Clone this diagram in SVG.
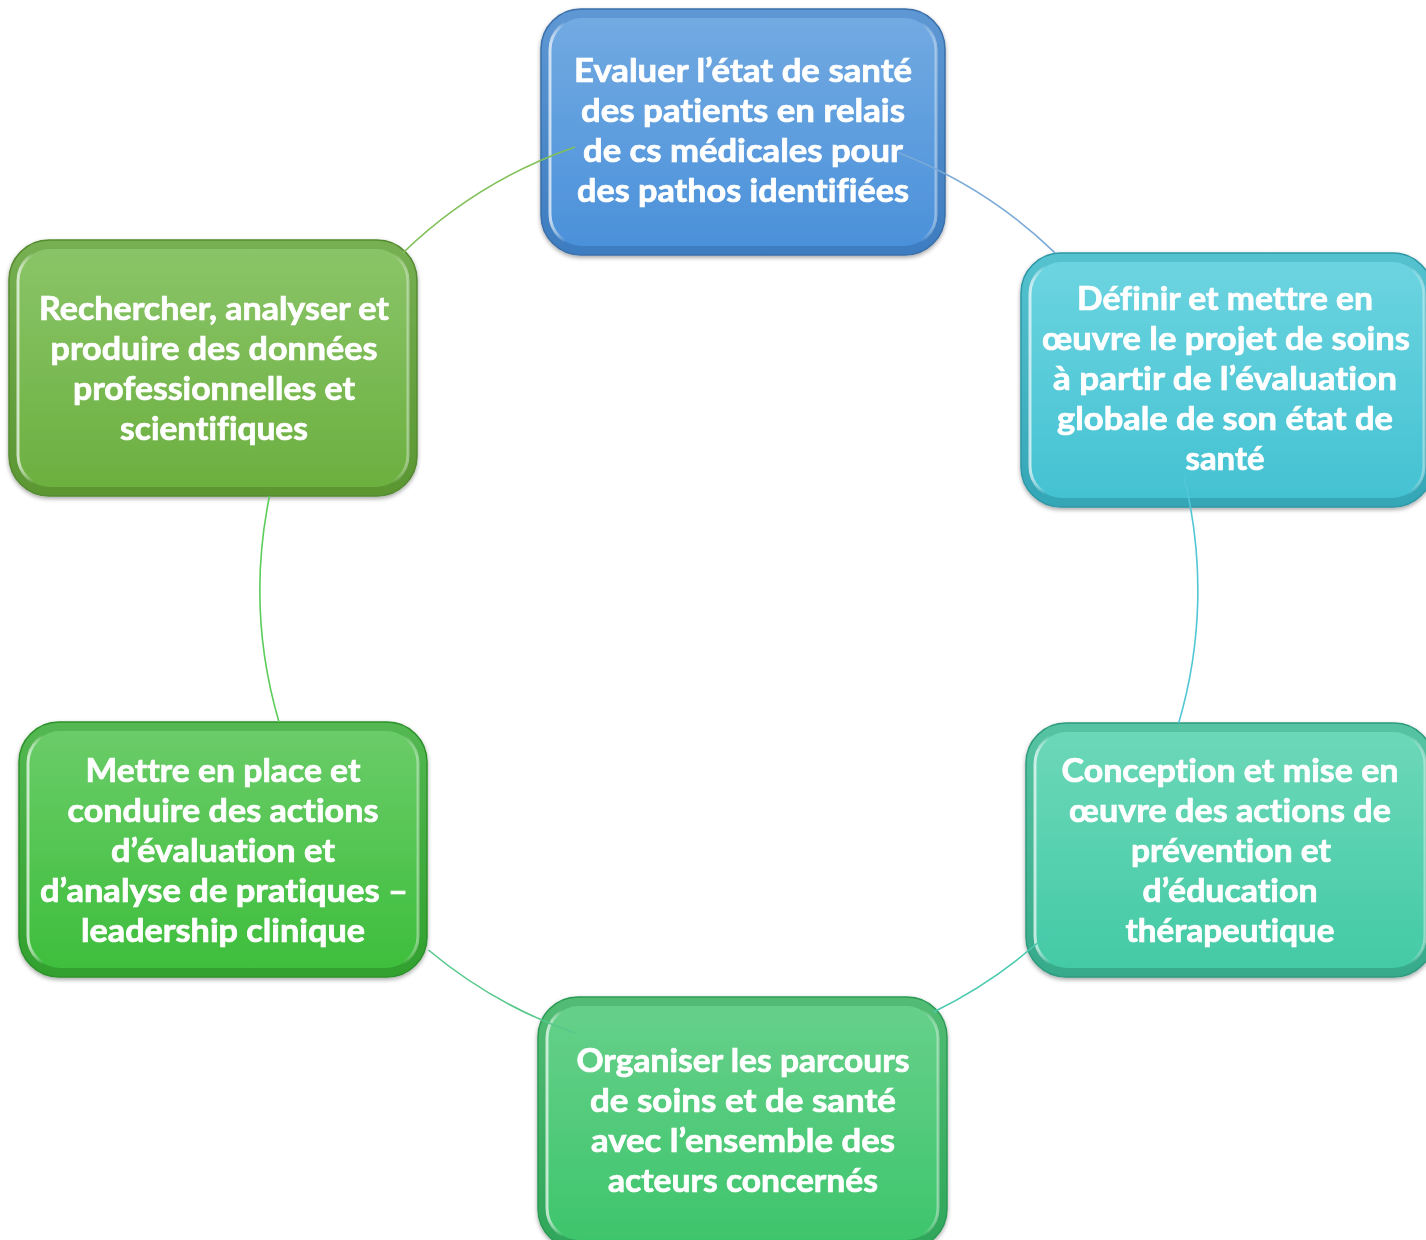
<svg xmlns="http://www.w3.org/2000/svg" width="1426" height="1240" viewBox="0 0 1426 1240">
<style>
.rim{stroke-width:1.5}
.hl{fill:none;stroke:url(#hlH);stroke-width:3}
.t{font-family:Lato,"Open Sans","Liberation Sans",sans-serif;font-weight:700;font-size:32px;fill:#ffffff;stroke:#ffffff;stroke-width:0.7px;text-anchor:middle;font-variant-ligatures:none}
.arc{fill:none;stroke-width:1.6}
</style>
<defs>
<filter id="sh" x="-10%" y="-10%" width="120%" height="125%"><feDropShadow dx="0" dy="2" stdDeviation="2" flood-color="#000" flood-opacity="0.35"/></filter>
<linearGradient id="hlH" x1="0" y1="0" x2="1" y2="0">
<stop offset="0" stop-color="#fff" stop-opacity="0.7"/><stop offset="0.04" stop-color="#fff" stop-opacity="0"/><stop offset="0.96" stop-color="#fff" stop-opacity="0"/><stop offset="1" stop-color="#fff" stop-opacity="0.4"/>
</linearGradient>
<linearGradient id="gB" x1="0" y1="0" x2="0" y2="1"><stop offset="0" stop-color="#72aae2"/><stop offset="1" stop-color="#4b91da"/></linearGradient>
<linearGradient id="rB" x1="0" y1="0" x2="0" y2="1"><stop offset="0" stop-color="#5e98d4"/><stop offset="1" stop-color="#3d7cc0"/></linearGradient>
<linearGradient id="gC" x1="0" y1="0" x2="0" y2="1"><stop offset="0" stop-color="#6cd4e0"/><stop offset="1" stop-color="#44c2d2"/></linearGradient>
<linearGradient id="rC" x1="0" y1="0" x2="0" y2="1"><stop offset="0" stop-color="#55c2cf"/><stop offset="1" stop-color="#34a6b6"/></linearGradient>
<linearGradient id="gT" x1="0" y1="0" x2="0" y2="1"><stop offset="0" stop-color="#6cd8b8"/><stop offset="1" stop-color="#44caa6"/></linearGradient>
<linearGradient id="rT" x1="0" y1="0" x2="0" y2="1"><stop offset="0" stop-color="#56c4a2"/><stop offset="1" stop-color="#36aa8a"/></linearGradient>
<linearGradient id="gG" x1="0" y1="0" x2="0" y2="1"><stop offset="0" stop-color="#66d08a"/><stop offset="1" stop-color="#3ec56c"/></linearGradient>
<linearGradient id="rG" x1="0" y1="0" x2="0" y2="1"><stop offset="0" stop-color="#52bc74"/><stop offset="1" stop-color="#2ea65a"/></linearGradient>
<linearGradient id="gL" x1="0" y1="0" x2="0" y2="1"><stop offset="0" stop-color="#6acc68"/><stop offset="1" stop-color="#3ebe3c"/></linearGradient>
<linearGradient id="rL" x1="0" y1="0" x2="0" y2="1"><stop offset="0" stop-color="#54b852"/><stop offset="1" stop-color="#31a02e"/></linearGradient>
<linearGradient id="gV" x1="0" y1="0" x2="0" y2="1"><stop offset="0" stop-color="#8ac468"/><stop offset="1" stop-color="#6cb040"/></linearGradient>
<linearGradient id="rV" x1="0" y1="0" x2="0" y2="1"><stop offset="0" stop-color="#76b052"/><stop offset="1" stop-color="#5a9632"/></linearGradient>
</defs>
<rect width="1426" height="1240" fill="#ffffff"/>

<g id="n1" filter="url(#sh)">
<rect class="rim" x="541" y="9" width="404" height="246" rx="40" fill="url(#rB)" stroke="#3a6fa8"/>
<rect x="550" y="18" width="386" height="228" rx="32" fill="url(#gB)"/>
<rect class="hl" x="550" y="18" width="386" height="228" rx="32"/>
<text class="t" x="743" y="82" textLength="338" lengthAdjust="spacingAndGlyphs">Evaluer l’état de santé</text>
<text class="t" x="743" y="122" textLength="324" lengthAdjust="spacingAndGlyphs">des patients en relais</text>
<text class="t" x="743" y="162" textLength="320" lengthAdjust="spacingAndGlyphs">de cs médicales pour</text>
<text class="t" x="743" y="202" textLength="332" lengthAdjust="spacingAndGlyphs">des pathos identifiées</text>
</g>

<g id="n2" filter="url(#sh)">
<rect class="rim" x="1021" y="253" width="412" height="254" rx="40" fill="url(#rC)" stroke="#2f98a6"/>
<rect x="1030" y="262" width="394" height="236" rx="32" fill="url(#gC)"/>
<rect class="hl" x="1030" y="262" width="394" height="236" rx="32"/>
<text class="t" x="1225" y="310" textLength="296" lengthAdjust="spacingAndGlyphs">Définir et mettre en</text>
<text class="t" x="1226" y="350" textLength="368" lengthAdjust="spacingAndGlyphs">œuvre le projet de soins</text>
<text class="t" x="1225" y="390" textLength="344" lengthAdjust="spacingAndGlyphs">à partir de l’évaluation</text>
<text class="t" x="1225" y="430" textLength="336" lengthAdjust="spacingAndGlyphs">globale de son état de</text>
<text class="t" x="1225" y="470" textLength="79" lengthAdjust="spacingAndGlyphs">santé</text>
</g>

<g id="n3" filter="url(#sh)">
<rect class="rim" x="1026" y="723" width="408" height="254" rx="40" fill="url(#rT)" stroke="#2f9a7e"/>
<rect x="1035" y="732" width="390" height="236" rx="32" fill="url(#gT)"/>
<rect class="hl" x="1035" y="732" width="390" height="236" rx="32"/>
<text class="t" x="1230" y="782" textLength="337" lengthAdjust="spacingAndGlyphs">Conception et mise en</text>
<text class="t" x="1230" y="822" textLength="322" lengthAdjust="spacingAndGlyphs">œuvre des actions de</text>
<text class="t" x="1231" y="862" textLength="200" lengthAdjust="spacingAndGlyphs">prévention et</text>
<text class="t" x="1230" y="902" textLength="175" lengthAdjust="spacingAndGlyphs">d’éducation</text>
<text class="t" x="1230" y="942" textLength="209" lengthAdjust="spacingAndGlyphs">thérapeutique</text>
</g>

<g id="n4" filter="url(#sh)">
<rect class="rim" x="538" y="997" width="409" height="252" rx="40" fill="url(#rG)" stroke="#2c9a55"/>
<rect x="547" y="1006" width="391" height="234" rx="32" fill="url(#gG)"/>
<rect class="hl" x="547" y="1006" width="391" height="234" rx="32"/>
<text class="t" x="743" y="1072" textLength="333" lengthAdjust="spacingAndGlyphs">Organiser les parcours</text>
<text class="t" x="743" y="1112" textLength="306" lengthAdjust="spacingAndGlyphs">de soins et de santé</text>
<text class="t" x="743" y="1152" textLength="304" lengthAdjust="spacingAndGlyphs">avec l’ensemble des</text>
<text class="t" x="743" y="1192" textLength="270" lengthAdjust="spacingAndGlyphs">acteurs concernés</text>
</g>

<g id="n5" filter="url(#sh)">
<rect class="rim" x="19" y="722" width="408" height="255" rx="40" fill="url(#rL)" stroke="#2c922a"/>
<rect x="28" y="731" width="390" height="237" rx="32" fill="url(#gL)"/>
<rect class="hl" x="28" y="731" width="390" height="237" rx="32"/>
<text class="t" x="223" y="782" textLength="275" lengthAdjust="spacingAndGlyphs">Mettre en place et</text>
<text class="t" x="223" y="822" textLength="311" lengthAdjust="spacingAndGlyphs">conduire des actions</text>
<text class="t" x="223" y="862" textLength="224" lengthAdjust="spacingAndGlyphs">d’évaluation et</text>
<text class="t" x="224" y="902" textLength="368" lengthAdjust="spacingAndGlyphs">d’analyse de pratiques –</text>
<text class="t" x="223" y="942" textLength="284" lengthAdjust="spacingAndGlyphs">leadership clinique</text>
</g>

<g id="n6" filter="url(#sh)">
<rect class="rim" x="9" y="240" width="408" height="256" rx="40" fill="url(#rV)" stroke="#558a30"/>
<rect x="18" y="249" width="390" height="238" rx="32" fill="url(#gV)"/>
<rect class="hl" x="18" y="249" width="390" height="238" rx="32"/>
<text class="t" x="214" y="320" textLength="350" lengthAdjust="spacingAndGlyphs">Rechercher, analyser et</text>
<text class="t" x="214" y="360" textLength="327" lengthAdjust="spacingAndGlyphs">produire des données</text>
<text class="t" x="214" y="400" textLength="282" lengthAdjust="spacingAndGlyphs">professionnelles et</text>
<text class="t" x="214" y="440" textLength="188" lengthAdjust="spacingAndGlyphs">scientifiques</text>
</g>

<g id="connectors">
<path class="arc" stroke="#7aaad8" d="M898,152.5 A469,469 0 0 1 1055,252.8"/>
<path class="arc" stroke="#52c6d6" d="M1184,477 A469,469 0 0 1 1178.7,723"/>
<path class="arc" stroke="#4ccab0" d="M1057,925 A469,469 0 0 1 933.6,1012"/>
<path class="arc" stroke="#56c88a" d="M575,1033 A469,469 0 0 1 428.4,950"/>
<path class="arc" stroke="#5ccc5a" d="M279,722 A469,469 0 0 1 269.5,496"/>
<path class="arc" stroke="#80c058" d="M402.8,253 A469,469 0 0 1 575,147"/>
</g>
</svg>
